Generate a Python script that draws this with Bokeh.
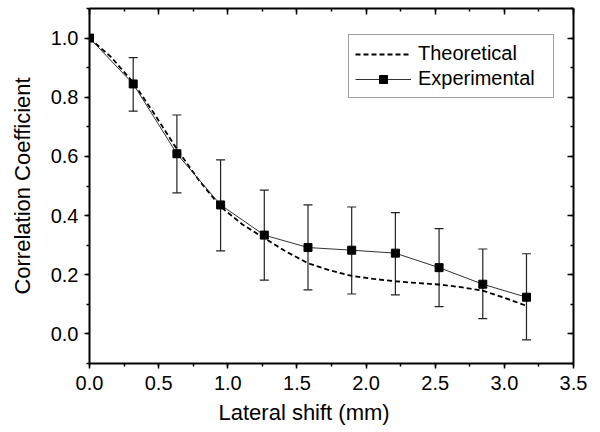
from bokeh.plotting import figure
from bokeh.models import (ColumnDataSource, Whisker, TeeHead, LinearAxis, SingleIntervalTicker,
                          PrintfTickFormatter, CustomJSTickFormatter, Legend, LegendItem, Range1d, Title)
from bokeh.embed import file_html
from bokeh.resources import INLINE

# ---- data ----
exp_x = [0.0, 0.316, 0.632, 0.948, 1.264, 1.58, 1.896, 2.212, 2.528, 2.844, 3.16]
exp_y = [1.0, 0.845, 0.609, 0.436, 0.334, 0.292, 0.283, 0.273, 0.224, 0.168, 0.124]
exp_upper = [1.0, 0.934, 0.740, 0.588, 0.486, 0.436, 0.429, 0.410, 0.356, 0.287, 0.271]
exp_lower = [1.0, 0.753, 0.477, 0.281, 0.182, 0.149, 0.135, 0.132, 0.092, 0.052, -0.020]

theo_x = [0.0, 0.158, 0.316, 0.474, 0.632, 0.79, 0.948, 1.106, 1.264, 1.422, 1.58,
          1.738, 1.896, 2.054, 2.212, 2.37, 2.528, 2.686, 2.844, 3.002, 3.16]
theo_y = [1.0, 0.935, 0.85, 0.74, 0.625, 0.52, 0.43, 0.37, 0.324, 0.278, 0.239,
          0.215, 0.196, 0.186, 0.178, 0.172, 0.167, 0.158, 0.146, 0.122, 0.095]

x_title = "Lateral shift (mm)"
y_title = "Correlation Coefficient"
labels = ["Theoretical", "Experimental"]

FONT = "Liberation Sans"

p = figure(width=600, height=432, output_backend="svg", toolbar_location=None,
           x_range=Range1d(0, 3.5), y_range=Range1d(-0.1, 1.1),
           min_border_left=89, min_border_right=27, min_border_top=8, min_border_bottom=69,
           x_axis_type=None, y_axis_type=None)
p.outline_line_color = None
p.grid.visible = False

xt = SingleIntervalTicker(interval=0.5, num_minor_ticks=2)
yt = SingleIntervalTicker(interval=0.2, num_minor_ticks=2)

def style(ax, inside, show_labels):
    ax.axis_line_width = 2
    ax.axis_line_color = "black"
    ax.major_tick_line_width = 1.5
    ax.minor_tick_line_width = 1.5
    ax.major_tick_line_color = "black"
    ax.minor_tick_line_color = "black"
    if inside:
        ax.major_tick_in, ax.major_tick_out = 6, 0
        ax.minor_tick_in, ax.minor_tick_out = 3, 0
    else:
        ax.major_tick_in, ax.major_tick_out = 0, 5
        ax.minor_tick_in, ax.minor_tick_out = 0, 3
    if show_labels:
        ax.major_label_text_font = FONT
        ax.major_label_text_font_size = "20px"
        ax.major_label_text_color = "black"
        ax.axis_label_text_font = FONT
        ax.axis_label_text_font_size = "22px"
        ax.axis_label_text_font_style = "normal"
        ax.axis_label_text_color = "black"
    else:
        ax.major_label_text_font_size = "1px"
        ax.major_label_standoff = 0

blank = CustomJSTickFormatter(code="return '';")
bottom = LinearAxis(ticker=xt, formatter=PrintfTickFormatter(format="%.1f"))
left = LinearAxis(ticker=yt, formatter=PrintfTickFormatter(format="%.1f"), axis_label=y_title)
top = LinearAxis(ticker=xt, formatter=blank)
right = LinearAxis(ticker=yt, formatter=blank)
style(bottom, False, True)
style(left, False, True)
style(top, True, False)
style(right, True, False)
bottom.major_label_standoff = 7
left.major_label_standoff = 6
left.axis_label_standoff = 13
p.add_layout(bottom, "below")
p.add_layout(left, "left")
p.add_layout(top, "above")
p.add_layout(right, "right")

xlab = Title(text=x_title, align="left", offset=129, text_font=FONT, text_font_size="22px",
             text_font_style="normal", text_color="black", standoff=10)
p.add_layout(xlab, "below")

# theoretical
theo = p.line(theo_x, theo_y, line_color="black", line_width=1.8, line_dash="5 3")

# experimental error bars (skip first point, which has none)
err_src = ColumnDataSource(dict(x=exp_x[1:], upper=exp_upper[1:], lower=exp_lower[1:]))
w = Whisker(source=err_src, base="x", upper="upper", lower="lower", dimension="height",
            line_color="#222222", line_width=1.2,
            upper_head=TeeHead(size=9, line_color="#222222", line_width=1.2),
            lower_head=TeeHead(size=9, line_color="#222222", line_width=1.2))
p.add_layout(w)

exp_line = p.line(exp_x, exp_y, line_color="#333333", line_width=1)
exp_pts = p.scatter(exp_x, exp_y, marker="square", size=8, fill_color="black", line_color="black")

legend = Legend(items=[LegendItem(label=labels[0], renderers=[theo]),
                       LegendItem(label=labels[1], renderers=[exp_line, exp_pts])],
                location=(259, 265))
legend.label_text_font = FONT
legend.label_text_font_size = "20px"
legend.label_text_color = "black"
legend.label_height = 25
legend.glyph_height = 20
legend.glyph_width = 56
legend.label_standoff = 7
legend.label_width = 129
legend.spacing = 0
legend.padding = 6
legend.margin = 0
legend.border_line_color = "#444444"
legend.border_line_width = 1
legend.background_fill_color = "white"
legend.background_fill_alpha = 1
p.add_layout(legend, "center")

open("out.html", "w").write(file_html(p, INLINE))
